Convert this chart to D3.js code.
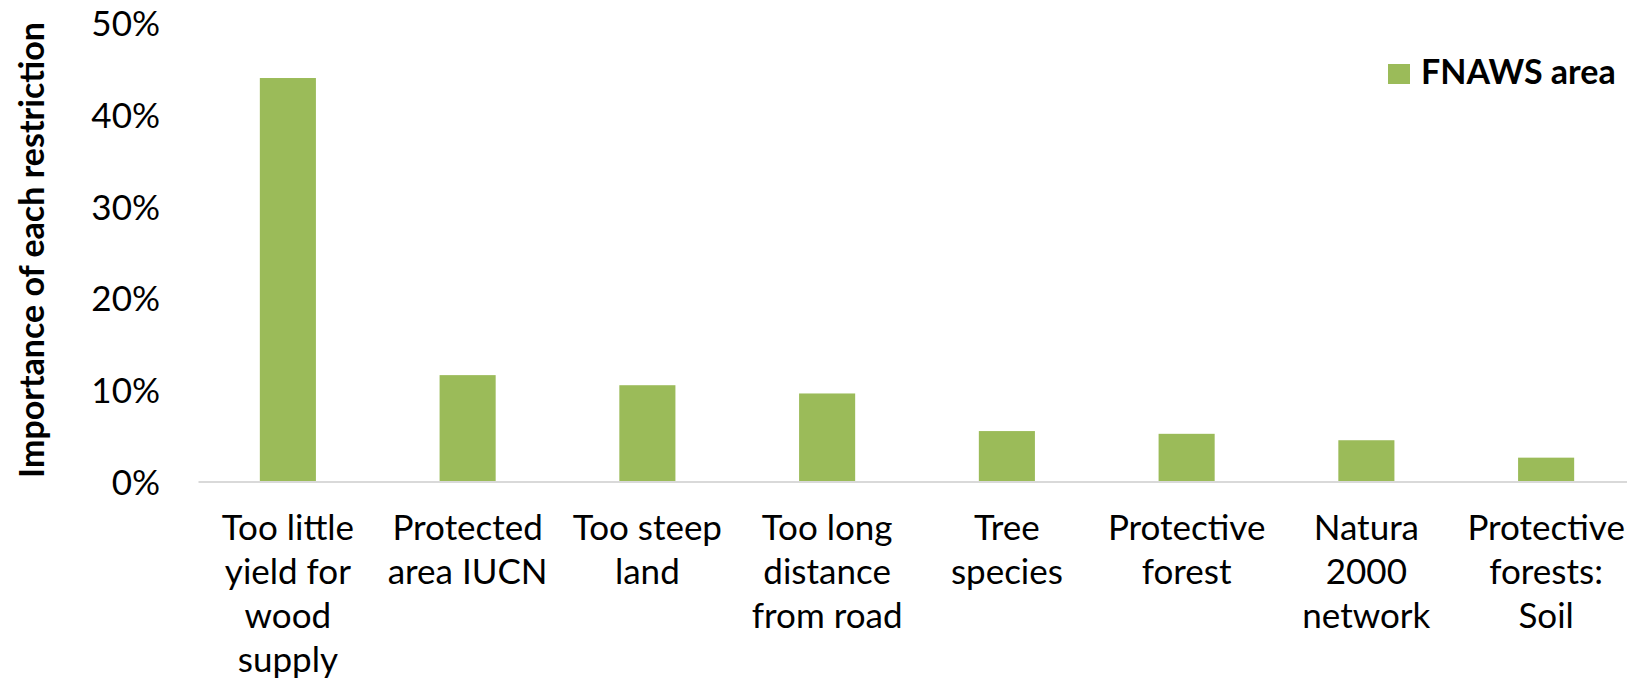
<!DOCTYPE html>
<html>
<head>
<meta charset="utf-8">
<script src="https://cdn.jsdelivr.net/npm/d3@7"></script>
<style>
  html, body { margin: 0; padding: 0; background: #ffffff; }
  svg { display: block; }
  text { font-family: Lato, "Open Sans", sans-serif; fill: #000000; }
</style>
</head>
<body>
<svg id="chart" width="1627" height="678"></svg>
<script>
// Restriction categories (each label split into its display lines)
const categories = [
  ["Too little", "yield for", "wood", "supply"],
  ["Protected", "area IUCN"],
  ["Too steep", "land"],
  ["Too long", "distance", "from road"],
  ["Tree", "species"],
  ["Protective", "forest"],
  ["Natura", "2000", "network"],
  ["Protective", "forests:", "Soil"]
];

// Share of the FNAWS area affected by each restriction
const fnawsArea = [0.44, 0.116, 0.105, 0.096, 0.055, 0.052, 0.045, 0.026];

// Value axis ticks
const yTicks = [0, 0.1, 0.2, 0.3, 0.4, 0.5];

const seriesName = "FNAWS area";
const yTitle = "Importance of each restriction";

const svg = d3.select("#chart");
const barColor = "#9bbb59";
const labelSize = 35;
const titleSize = 34;

const keys = categories.map(c => c.join(" "));

const x = d3.scaleBand()
  .domain(keys)
  .range([198, 1636])
  .paddingInner(0.688)
  .paddingOuter(0.344);

const y = d3.scaleLinear()
  .domain([0, 0.5])
  .range([481.5, 23]);

// Bars
svg.append("g")
  .selectAll("rect")
  .data(fnawsArea)
  .join("rect")
  .attr("x", (d, i) => x(keys[i]))
  .attr("width", x.bandwidth())
  .attr("y", d => y(d))
  .attr("height", d => y(0) - y(d))
  .attr("fill", barColor);

// Category axis (baseline only, no ticks)
const xAxis = svg.append("g")
  .attr("transform", `translate(0,${y(0)})`)
  .call(d3.axisBottom(x).tickSize(0).tickFormat(""));
xAxis.select(".domain")
  .attr("stroke", "#d9d9d9")
  .attr("stroke-width", 2);

// Multi-line category labels
const labels = svg.append("g")
  .selectAll("text")
  .data(categories)
  .join("text")
  .attr("text-anchor", "middle")
  .attr("font-size", labelSize)
  .attr("x", (d, i) => x(keys[i]) + x.bandwidth() / 2)
  .attr("y", 539.5);
labels.selectAll("tspan")
  .data(d => d)
  .join("tspan")
  .attr("x", function () { return d3.select(this.parentNode).attr("x"); })
  .attr("dy", (d, i) => i === 0 ? 0 : 44)
  .text(d => d);

// Value axis (labels only)
const yAxis = svg.append("g")
  .attr("transform", "translate(160,0)")
  .call(d3.axisLeft(y).tickValues(yTicks).tickFormat(d3.format(".0%")).tickSize(0).tickPadding(0));
yAxis.select(".domain").remove();
yAxis.selectAll("text")
  .attr("font-size", labelSize)
  .attr("font-family", "Lato, sans-serif")
  .attr("fill", "#000")
  .attr("dy", "0.36em");

// Value axis title
svg.append("text")
  .attr("transform", "translate(44,250) rotate(-90)")
  .attr("text-anchor", "middle")
  .attr("font-size", titleSize)
  .attr("font-weight", "bold")
  .text(yTitle);

// Legend
const legend = svg.append("g").attr("transform", "translate(1388,64)");
legend.append("rect")
  .attr("width", 22)
  .attr("height", 20)
  .attr("fill", barColor);
legend.append("text")
  .attr("x", 33)
  .attr("y", 20)
  .attr("font-size", titleSize)
  .attr("font-weight", "bold")
  .text(seriesName);
</script>
</body>
</html>
